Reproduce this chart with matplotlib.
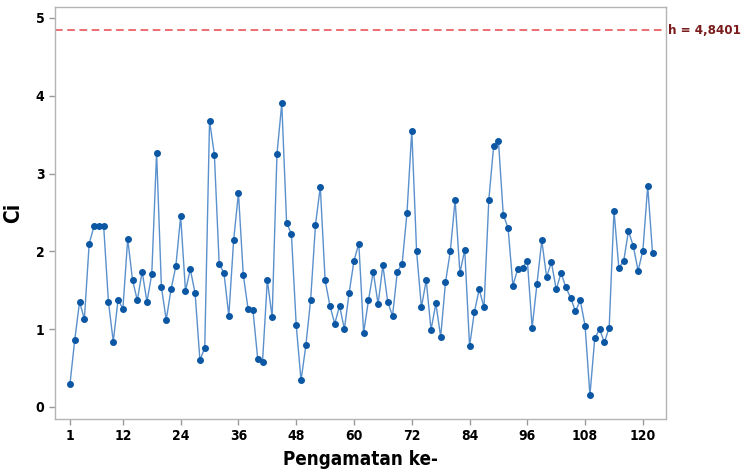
import matplotlib
matplotlib.use("Agg")
import matplotlib.pyplot as plt
import numpy as np

# Ci statistic per observation
ci_values = [
    0.29, 0.86, 1.35, 1.13, 2.10, 2.32, 2.33, 2.33, 1.35, 0.84,
    1.38, 1.26, 2.16, 1.63, 1.37, 1.74, 1.35, 1.71, 3.27, 1.54,
    1.12, 1.51, 1.81, 2.45, 1.49, 1.77, 1.46, 0.60, 0.76, 3.68,
    3.24, 1.84, 1.72, 1.17, 2.14, 2.75, 1.70, 1.26, 1.25, 0.62,
    0.58, 1.63, 1.15, 3.25, 3.90, 2.37, 2.22, 1.05, 0.34, 0.79,
    1.38, 2.34, 2.83, 1.63, 1.30, 1.07, 1.30, 1.00, 1.47, 1.88,
    2.10, 0.95, 1.37, 1.74, 1.32, 1.82, 1.35, 1.17, 1.74, 1.84,
    2.49, 3.55, 2.00, 1.28, 1.63, 0.99, 1.33, 0.90, 1.60, 2.00,
    2.66, 1.72, 2.02, 0.78, 1.22, 1.51, 1.28, 2.66, 3.35, 3.42,
    2.47, 2.30, 1.56, 1.77, 1.79, 1.88, 1.02, 1.58, 2.14, 1.67,
    1.86, 1.51, 1.72, 1.54, 1.40, 1.23, 1.37, 1.04, 0.15, 0.88,
    1.00, 0.83, 1.02, 2.52, 1.79, 1.87, 2.26, 2.07, 1.75, 2.01,
    2.84, 1.98,
]
observations = np.arange(1, len(ci_values) + 1)

h_limit = 4.8401
h_label = "h = 4,8401"
x_ticks = [1, 12, 24, 36, 48, 60, 72, 84, 96, 108, 120]
y_ticks = [0, 1, 2, 3, 4, 5]

# condensed bold face for all text
plt.rcParams["font.family"] = ["DejaVu Sans"]
plt.rcParams["font.stretch"] = "condensed"

fig = plt.figure(figsize=(7.45, 4.73), dpi=100)
ax = fig.add_axes([55 / 745, 1 - 419 / 473, (666 - 55) / 745, (419 - 7) / 473])

ax.plot(observations, ci_values, color="#5a90cc", linewidth=1.0,
        marker="o", markersize=4.0, markerfacecolor="#0b57a4",
        markeredgecolor="#0b57a4", zorder=3)

ax.axhline(h_limit, color="#e8454a", linestyle=(0, (5, 3)), linewidth=1.1, zorder=2)
ax.text(1.004, h_limit, h_label, transform=ax.get_yaxis_transform(),
        color="#7a1c1c", fontsize=9.5, fontweight="bold", fontstretch="condensed",
        va="center", ha="left", clip_on=False)

ax.set_xlim(-2.1, 124.8)
ax.set_ylim(-0.155, 5.14)
ax.set_xticks(x_ticks)
ax.set_yticks(y_ticks)

for spine in ax.spines.values():
    spine.set_color("#b4b4b4")
    spine.set_linewidth(1.0)

ax.tick_params(axis="both", colors="#9a9a9a", length=4, width=1.0,
               labelcolor="black", labelsize=10)
for lbl in ax.get_xticklabels() + ax.get_yticklabels():
    lbl.set_fontweight("bold")
    lbl.set_fontstretch("condensed")

ax.set_xlabel("Pengamatan ke-", fontsize=13.5, fontweight="bold",
              fontstretch="condensed", labelpad=5)
ax.set_ylabel("Ci", fontsize=15, fontweight="bold",
              fontstretch="condensed", labelpad=14)
ax.yaxis.set_label_coords(-0.052, 0.5)

fig.savefig("out.png", dpi=100)
